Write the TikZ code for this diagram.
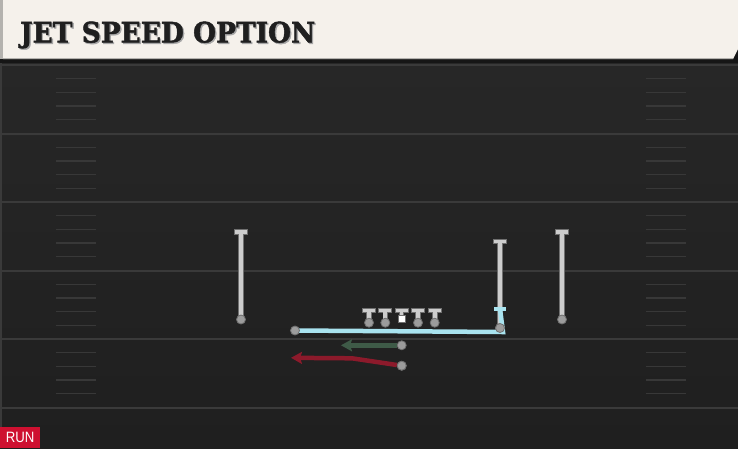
\documentclass[tikz,border=0pt]{standalone}
\usepackage{fontspec}
\newfontfamily\titlefont[BoldFeatures={FakeBold=1.6}]{DejaVu Serif}
\newfontfamily\tagfont{Liberation Sans}
\usetikzlibrary{arrows.meta}
\definecolor{headcream}{HTML}{F5F1EB}
\definecolor{headedge}{HTML}{B4B2AE}
\definecolor{fieldtop}{HTML}{272727}
\definecolor{fieldlow}{HTML}{1F1F1F}
\definecolor{fieldband}{HTML}{161616}
\definecolor{yardgray}{HTML}{3A3A3A}
\definecolor{hashgray}{HTML}{383838}
\definecolor{stemgray}{HTML}{CDCDCD}
\definecolor{stemedge}{HTML}{707070}
\definecolor{ballgray}{HTML}{9C9C9C}
\definecolor{jetcyan}{HTML}{A9E3EF}
\definecolor{qbgreen}{HTML}{3E5A47}
\definecolor{rbred}{HTML}{8C1A2B}
\definecolor{runred}{HTML}{CE1030}
\tikzset{
    yardline/.style={yardgray,line width=2pt},
    hashline/.style={hashgray,line width=1.3pt},
    stemedgeline/.style={stemedge,line width=5.6pt},
    stemline/.style={stemgray,line width=3.8pt},
    barbox/.style={fill=stemgray,draw=stemedge,line width=0.8pt},
    ballnode/.style={circle,fill=ballgray,draw=stemedge,line width=0.8pt,minimum size=9pt,inner sep=0pt},
    snapnode/.style={rectangle,fill=white,draw=stemedge,line width=0.5pt,minimum size=7.5pt,inner sep=0pt},
    jetroute/.style={jetcyan,line width=4.5pt},
    jetbar/.style={fill=jetcyan},
    qbroute/.style={qbgreen,line width=4.5pt,-{Stealth[length=11pt,width=12pt,inset=2pt]}},
    rbroute/.style={rbred,line width=4.5pt,-{Stealth[length=11pt,width=12pt,inset=2pt]}},
    titletext/.style={anchor=base west,inner sep=0pt,font=\titlefont\bfseries},
    runtag/.style={fill=runred,text=white,minimum width=40pt,minimum height=20.5pt,inner sep=0pt,anchor=south west,font=\tagfont\fontsize{15}{16}\selectfont}
}
% player marker: name, x, y of ball, y of T bar
\newcommand{\PlayerT}[4]{%
    \draw[stemedgeline] (#2,#4) -- (#2,#3);
    \draw[barbox] (#2-6.5,#4-2.3) rectangle (#2+6.5,#4+2.3);
    \draw[stemline] (#2,#4+1.5) -- (#2,#3);
    \node[ballnode] (#1) at (#2,#3) {};
}
\def\YARDLINES{65,133.5,202,270.5,339,407.5}
\def\HASHBANDS{65,133.5,202,270.5,339}
\def\TITLE{JET SPEED OPTION}

\begin{document}
\begin{tikzpicture}[x=1pt,y=-1pt]
    \useasboundingbox (0,0) rectangle (738,448);

    % field background
    \fill[fieldband] (0,0) rectangle (738,448);
    \shade[top color=fieldtop,bottom color=fieldlow] (0,63) rectangle (738,448);
    \fill[yardgray] (0,63) rectangle (1.5,448);

    % yard lines and hash marks
    \foreach \yl in \YARDLINES {\draw[yardline] (0,\yl) -- (738,\yl);}
    \foreach \yl in \HASHBANDS {
        \foreach \k in {1,...,4} {
            \draw[hashline] (56,\yl+13.7*\k) -- (96,\yl+13.7*\k);
            \draw[hashline] (646,\yl+13.7*\k) -- (686,\yl+13.7*\k);
        }
    }

    % header
    \fill[headcream] (3,0) -- (738,0) -- (738,49) -- (733,59) -- (3,59) -- cycle;
    \fill[headedge] (0,0) rectangle (3,59);
    \draw[headedge,line width=1pt] (3,58.5) -- (733,58.5);
    \node[titletext,text=gray!70] (titleshade) at (21.3,43.8) {\resizebox{295pt}{21pt}{\TITLE}};
    \node[titletext,text=black!88] (title) at (20,42.5) {\resizebox{295pt}{21pt}{\TITLE}};

    % receivers
    \PlayerT{lwr}{241}{319.5}{232}
    \PlayerT{rwr}{562}{319.5}{232}
    \PlayerT{slot}{500}{328}{241.5}

    % offensive line (center gets the snap square)
    \foreach \nm/\xp in {lt/369,lg/385.3,rg/418,rt/434.7} {\PlayerT{\nm}{\xp}{322.7}{310.3}}
    \draw[stemedgeline] (401.5,310.3) -- (401.5,316);
    \draw[barbox] (395,308) rectangle (408,312.6);
    \draw[stemline] (401.5,311.8) -- (401.5,316);
    \node[snapnode] (ctr) at (401.5,318.7) {};

    % jet motion
    \coordinate (jetcorner) at (503,332);
    \draw[jetroute] (500,309) -- (jetcorner) -- (295,330.5);
    \fill[jetbar] (493.5,306.8) rectangle (506,311);
    \node[ballnode] (slotdot) at (500,328) {};
    \node[ballnode] (jetend) at (295,330.5) {};

    % quarterback and running back
    \node[ballnode] (qb) at (401.7,345.3) {};
    \coordinate (qbend) at (341,345.3);
    \draw[qbroute] (qb) -- (qbend);
    \node[ballnode] (rb) at (401.7,365.7) {};
    \coordinate (rbbend) at (352,358.3);
    \coordinate (rbend) at (291,357.8);
    \draw[rbroute] (rb) -- (rbbend) -- (rbend);
    \node[ballnode] (rbtop) at (401.7,365.7) {};

    % play type tag
    \node[runtag] (runlabel) at (0,448) {\scalebox{0.88}[1]{RUN}};
\end{tikzpicture}
\end{document}
